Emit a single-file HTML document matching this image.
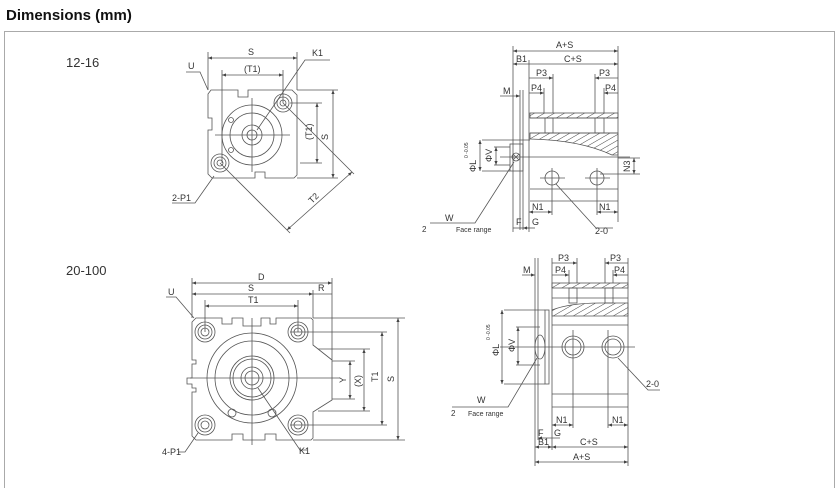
<!DOCTYPE html>
<html><head><meta charset="utf-8"><style>
html,body{margin:0;padding:0;background:#fff;width:840px;height:488px;overflow:hidden}
svg{display:block}
text{font-family:"Liberation Sans",sans-serif;fill:#333}
</style></head><body>
<svg width="840" height="488" viewBox="0 0 840 488" xmlns="http://www.w3.org/2000/svg">
<defs>
<pattern id="h" width="5" height="5" patternUnits="userSpaceOnUse" patternTransform="rotate(60)"><line x1="0" y1="0" x2="0" y2="5" stroke="#444" stroke-width="1"/></pattern>
<marker id="a" markerWidth="6" markerHeight="6" refX="5" refY="3" orient="auto-start-reverse"><path d="M0,1 L5,3 L0,5" fill="#444"/></marker>
</defs>
<text x="6" y="20" font-size="15" font-weight="bold" style="fill:#111">Dimensions (mm)</text>
<rect x="4.5" y="31.5" width="830" height="460" fill="none" stroke="#aaa"/>
<text x="66" y="67" font-size="13">12-16</text>
<text x="66" y="275" font-size="13">20-100</text>

<g stroke="#555" stroke-width="0.8" fill="none">
<path d="M211,90 L238,90 L238,97 L248,97 L248,90 L265,90 L265,90 L292,90 L297,95 L297,175 L294,178 L265,178 L265,172 L255,172 L255,178 L212,178 L208,174 L208,130 L212,130 L212,118 L208,118 L208,94 Z"/>
<circle cx="252" cy="135" r="30"/><circle cx="252" cy="135" r="22"/><circle cx="252" cy="135" r="10"/><circle cx="252" cy="135" r="5"/>
<circle cx="283" cy="103" r="9"/><circle cx="283" cy="103" r="6"/><circle cx="283" cy="103" r="3"/>
<circle cx="220" cy="163" r="9"/><circle cx="220" cy="163" r="6"/><circle cx="220" cy="163" r="3"/>
<circle cx="231" cy="120" r="2.5"/><circle cx="231" cy="150" r="2.5"/>
<line x1="215" y1="135" x2="290" y2="135"/><line x1="252" y1="98" x2="252" y2="172"/>
<line x1="208" y1="52" x2="208" y2="90"/><line x1="297" y1="52" x2="297" y2="90"/>
<line x1="208" y1="58" x2="297" y2="58" marker-start="url(#a)" marker-end="url(#a)"/>
<line x1="222" y1="70" x2="222" y2="163"/><line x1="283" y1="70" x2="283" y2="103"/>
<line x1="222" y1="75" x2="283" y2="75" marker-start="url(#a)" marker-end="url(#a)"/>
<line x1="297" y1="90" x2="338" y2="90"/><line x1="297" y1="178" x2="338" y2="178"/>
<line x1="333" y1="90" x2="333" y2="178" marker-start="url(#a)" marker-end="url(#a)"/>
<line x1="290" y1="103" x2="322" y2="103"/><line x1="300" y1="163" x2="322" y2="163"/>
<line x1="317" y1="103" x2="317" y2="163" marker-start="url(#a)" marker-end="url(#a)"/>
<line x1="220" y1="163" x2="290" y2="233"/><line x1="283" y1="103" x2="354" y2="174"/>
<line x1="287" y1="230" x2="352" y2="172" marker-start="url(#a)" marker-end="url(#a)"/>
<polyline points="330,60 305,60 257,130"/>
<polyline points="186,72 200,72 208,90"/>
<polyline points="172,203 195,203 214,176"/>

<line x1="513" y1="46" x2="513" y2="232"/><line x1="618" y1="46" x2="618" y2="222"/>
<line x1="513" y1="51" x2="618" y2="51" marker-start="url(#a)" marker-end="url(#a)"/>
<line x1="529" y1="60" x2="529" y2="232"/>
<line x1="513" y1="64" x2="618" y2="64" marker-start="url(#a)" marker-end="url(#a)"/>
<line x1="553" y1="74" x2="553" y2="113"/><line x1="595" y1="74" x2="595" y2="113"/>
<line x1="529" y1="78" x2="553" y2="78" marker-end="url(#a)"/><line x1="595" y1="78" x2="618" y2="78" marker-start="url(#a)"/>
<line x1="544" y1="88" x2="544" y2="113"/><line x1="604" y1="88" x2="604" y2="113"/>
<line x1="529" y1="93" x2="544" y2="93" marker-end="url(#a)"/><line x1="604" y1="93" x2="618" y2="93" marker-start="url(#a)"/>
<line x1="500" y1="96" x2="520" y2="96" marker-end="url(#a)"/><line x1="520" y1="90" x2="520" y2="230"/><line x1="523" y1="90" x2="523" y2="230"/>
<rect x="530" y="113" width="88" height="5" fill="url(#h)"/>
<rect x="545" y="118" width="8" height="15"/><rect x="595" y="118" width="9" height="15"/>
<path d="M530,133 L618,133 L618,155 L612,155 Q580,140 530,139 Z" fill="url(#h)"/>
<line x1="530" y1="118" x2="618" y2="118"/><line x1="530" y1="133" x2="618" y2="133"/>
<rect x="510" y="144" width="13" height="27"/>
<circle cx="516" cy="157" r="4"/><line x1="513" y1="154" x2="519" y2="160"/><line x1="513" y1="160" x2="519" y2="154"/>
<line x1="500" y1="157" x2="630" y2="157"/>
<line x1="482" y1="140" x2="530" y2="140"/><line x1="482" y1="171" x2="510" y2="171"/>
<line x1="480" y1="140" x2="480" y2="171" marker-start="url(#a)" marker-end="url(#a)"/>
<line x1="494" y1="147" x2="510" y2="147"/><line x1="494" y1="165" x2="510" y2="165"/>
<line x1="496" y1="147" x2="496" y2="165" marker-start="url(#a)" marker-end="url(#a)"/>
<line x1="618" y1="158" x2="640" y2="158"/><line x1="600" y1="174" x2="640" y2="174"/>
<line x1="634" y1="158" x2="634" y2="174" marker-start="url(#a)" marker-end="url(#a)"/>
<line x1="530" y1="189" x2="618" y2="189"/><line x1="530" y1="201" x2="618" y2="201"/>
<circle cx="552" cy="178" r="7"/><circle cx="597" cy="178" r="7"/>
<line x1="540" y1="178" x2="565" y2="178"/><line x1="585" y1="178" x2="610" y2="178"/>
<line x1="552" y1="168" x2="552" y2="215"/><line x1="597" y1="168" x2="597" y2="215"/>
<line x1="529" y1="212" x2="552" y2="212" marker-start="url(#a)" marker-end="url(#a)"/>
<line x1="597" y1="212" x2="618" y2="212" marker-start="url(#a)" marker-end="url(#a)"/>
<line x1="513" y1="228" x2="529" y2="228"/><line x1="523" y1="228" x2="535" y2="228" marker-start="url(#a)"/>
<polyline points="430,223 475,223 514,162"/>
<polyline points="613,228 596,228 556,184"/>

<path d="M196,318 L222,318 L222,324 L232,324 L232,318 L243,318 L243,326 L261,326 L261,318 L270,318 L270,324 L276,324 L276,318 L311,318 L313,320 L313,345 L332,360 L332,400 L313,412 L313,438 L311,440 L276,440 L276,434 L265,434 L265,440 L243,440 L243,434 L232,434 L232,440 L196,440 L192,436 L192,392 L196,392 L196,388 L192,388 L192,384 L187,384 L187,378 L192,378 L192,364 L196,364 L196,360 L192,360 L192,322 Z"/>
<circle cx="252" cy="378" r="45"/><circle cx="252" cy="378" r="37"/><circle cx="252" cy="378" r="22"/><circle cx="252" cy="378" r="19"/><circle cx="252" cy="378" r="11"/><circle cx="252" cy="378" r="7"/>
<circle cx="232" cy="413" r="4"/><circle cx="272" cy="413" r="4"/>
<circle cx="205" cy="332" r="10"/><circle cx="205" cy="332" r="7"/><circle cx="205" cy="332" r="4"/>
<circle cx="298" cy="332" r="10"/><circle cx="298" cy="332" r="7"/><circle cx="298" cy="332" r="4"/>
<circle cx="205" cy="425" r="10"/><circle cx="205" cy="425" r="7"/><circle cx="205" cy="425" r="4"/>
<circle cx="298" cy="425" r="10"/><circle cx="298" cy="425" r="7"/><circle cx="298" cy="425" r="4"/>
<line x1="190" y1="378" x2="340" y2="378"/><line x1="252" y1="318" x2="252" y2="445"/>
<line x1="192" y1="278" x2="192" y2="318"/><line x1="332" y1="278" x2="332" y2="360"/><line x1="313" y1="290" x2="313" y2="318"/>
<line x1="192" y1="283" x2="332" y2="283" marker-start="url(#a)" marker-end="url(#a)"/>
<line x1="192" y1="294" x2="313" y2="294" marker-start="url(#a)" marker-end="url(#a)"/>
<line x1="313" y1="294" x2="332" y2="294"/>
<line x1="205" y1="300" x2="205" y2="332"/><line x1="298" y1="300" x2="298" y2="332"/>
<line x1="205" y1="306" x2="298" y2="306" marker-start="url(#a)" marker-end="url(#a)"/>
<line x1="313" y1="318" x2="405" y2="318"/><line x1="313" y1="440" x2="405" y2="440"/>
<line x1="398" y1="318" x2="398" y2="440" marker-start="url(#a)" marker-end="url(#a)"/>
<line x1="290" y1="332" x2="387" y2="332"/><line x1="290" y1="425" x2="387" y2="425"/>
<line x1="382" y1="332" x2="382" y2="425" marker-start="url(#a)" marker-end="url(#a)"/>
<line x1="318" y1="349" x2="370" y2="349"/><line x1="318" y1="411" x2="370" y2="411"/>
<line x1="364" y1="349" x2="364" y2="411" marker-start="url(#a)" marker-end="url(#a)"/>
<line x1="332" y1="361" x2="355" y2="361"/><line x1="332" y1="399" x2="355" y2="399"/>
<line x1="350" y1="361" x2="350" y2="399" marker-start="url(#a)" marker-end="url(#a)"/>
<polyline points="166,297 176,297 194,318"/>
<polyline points="178,452 185,452 198,433"/>
<polyline points="307,450 300,450 258,388"/>

<line x1="535" y1="258" x2="535" y2="466"/><line x1="538" y1="258" x2="538" y2="440"/><line x1="552" y1="258" x2="552" y2="450"/><line x1="628" y1="258" x2="628" y2="466"/>
<line x1="577" y1="258" x2="577" y2="283"/><line x1="605" y1="258" x2="605" y2="283"/>
<line x1="552" y1="263" x2="577" y2="263" marker-end="url(#a)"/><line x1="605" y1="263" x2="628" y2="263" marker-start="url(#a)"/>
<line x1="569" y1="270" x2="569" y2="283"/><line x1="613" y1="270" x2="613" y2="283"/>
<line x1="552" y1="275" x2="569" y2="275" marker-end="url(#a)"/><line x1="613" y1="275" x2="628" y2="275" marker-start="url(#a)"/>
<line x1="522" y1="275" x2="535" y2="275" marker-end="url(#a)"/>
<rect x="552" y="283" width="76" height="5" fill="url(#h)"/>
<rect x="569" y="288" width="8" height="15"/><rect x="605" y="288" width="8" height="15"/>
<path d="M552,310 Q570,303 600,303 L628,303 L628,316 L552,316 Z" fill="url(#h)"/>
<line x1="552" y1="298" x2="628" y2="298"/><line x1="552" y1="325" x2="628" y2="325"/>
<line x1="552" y1="394" x2="628" y2="394"/><line x1="552" y1="407" x2="628" y2="407"/>
<rect x="545" y="310" width="4" height="74"/>
<ellipse cx="540" cy="347" rx="5" ry="12"/>
<line x1="500" y1="347" x2="635" y2="347"/>
<circle cx="573" cy="347" r="11"/><circle cx="573" cy="347" r="8"/>
<circle cx="613" cy="347" r="11"/><circle cx="613" cy="347" r="8"/>
<line x1="573" y1="330" x2="573" y2="428"/><line x1="608" y1="330" x2="608" y2="428"/>
<line x1="552" y1="425" x2="573" y2="425" marker-start="url(#a)" marker-end="url(#a)"/>
<line x1="608" y1="425" x2="628" y2="425" marker-start="url(#a)" marker-end="url(#a)"/>
<line x1="504" y1="310" x2="545" y2="310"/><line x1="504" y1="384" x2="545" y2="384"/>
<line x1="502" y1="310" x2="502" y2="384" marker-start="url(#a)" marker-end="url(#a)"/>
<line x1="516" y1="327" x2="540" y2="327"/><line x1="516" y1="365" x2="540" y2="365"/>
<line x1="518" y1="327" x2="518" y2="365" marker-start="url(#a)" marker-end="url(#a)"/>
<line x1="538" y1="438" x2="560" y2="438" marker-start="url(#a)"/>
<line x1="535" y1="447" x2="552" y2="447" marker-start="url(#a)" marker-end="url(#a)"/>
<line x1="552" y1="447" x2="628" y2="447" marker-start="url(#a)" marker-end="url(#a)"/>
<line x1="535" y1="462" x2="628" y2="462" marker-start="url(#a)" marker-end="url(#a)"/>
<polyline points="452,407 508,407 537,358"/>
<polyline points="660,390 648,390 618,358"/>
</g>

<g font-size="9">
<text x="248" y="55">S</text><text x="312" y="56">K1</text><text x="244" y="72">(T1)</text>
<text x="188" y="69">U</text><text x="172" y="201">2-P1</text>
<text x="328" y="140" transform="rotate(-90 328 140)">S</text>
<text x="312" y="140" transform="rotate(-90 312 140)">(T1)</text>
<text x="312" y="204" transform="rotate(-45 312 204)">T2</text>
<text x="556" y="48">A+S</text><text x="516" y="62">B1</text><text x="564" y="62">C+S</text>
<text x="536" y="76">P3</text><text x="599" y="76">P3</text>
<text x="531" y="91">P4</text><text x="605" y="91">P4</text><text x="503" y="94">M</text>
<text x="476" y="172" transform="rotate(-90 476 172)">ΦL</text>
<text x="468" y="158" font-size="5" transform="rotate(-90 468 158)">0 -0.05</text>
<text x="492" y="162" transform="rotate(-90 492 162)">ΦV</text>
<text x="630" y="172" transform="rotate(-90 630 172)">N3</text>
<text x="532" y="210">N1</text><text x="599" y="210">N1</text>
<text x="516" y="225">F</text><text x="532" y="225">G</text>
<text x="445" y="221">W</text><text x="422" y="232" font-size="8">2</text><text x="456" y="232" font-size="7">Face range</text>
<text x="595" y="234">2-0</text>
<text x="258" y="280">D</text><text x="248" y="291">S</text><text x="318" y="291">R</text><text x="248" y="303">T1</text>
<text x="168" y="295">U</text><text x="162" y="455">4-P1</text><text x="299" y="454">K1</text>
<text x="346" y="383" transform="rotate(-90 346 383)">Y</text>
<text x="361" y="387" transform="rotate(-90 361 387)">(X)</text>
<text x="378" y="382" transform="rotate(-90 378 382)">T1</text>
<text x="394" y="382" transform="rotate(-90 394 382)">S</text>
<text x="558" y="261">P3</text><text x="610" y="261">P3</text>
<text x="555" y="273">P4</text><text x="614" y="273">P4</text><text x="523" y="273">M</text>
<text x="499" y="356" transform="rotate(-90 499 356)">ΦL</text>
<text x="490" y="340" font-size="5" transform="rotate(-90 490 340)">0 -0.05</text>
<text x="515" y="352" transform="rotate(-90 515 352)">ΦV</text>
<text x="556" y="423">N1</text><text x="612" y="423">N1</text>
<text x="538" y="436">F</text><text x="554" y="436">G</text>
<text x="538" y="445">B1</text><text x="580" y="445">C+S</text><text x="573" y="460">A+S</text>
<text x="477" y="403">W</text><text x="451" y="416" font-size="8">2</text><text x="468" y="416" font-size="7">Face range</text>
<text x="646" y="387">2-0</text>
</g>
</svg>
</body></html>
